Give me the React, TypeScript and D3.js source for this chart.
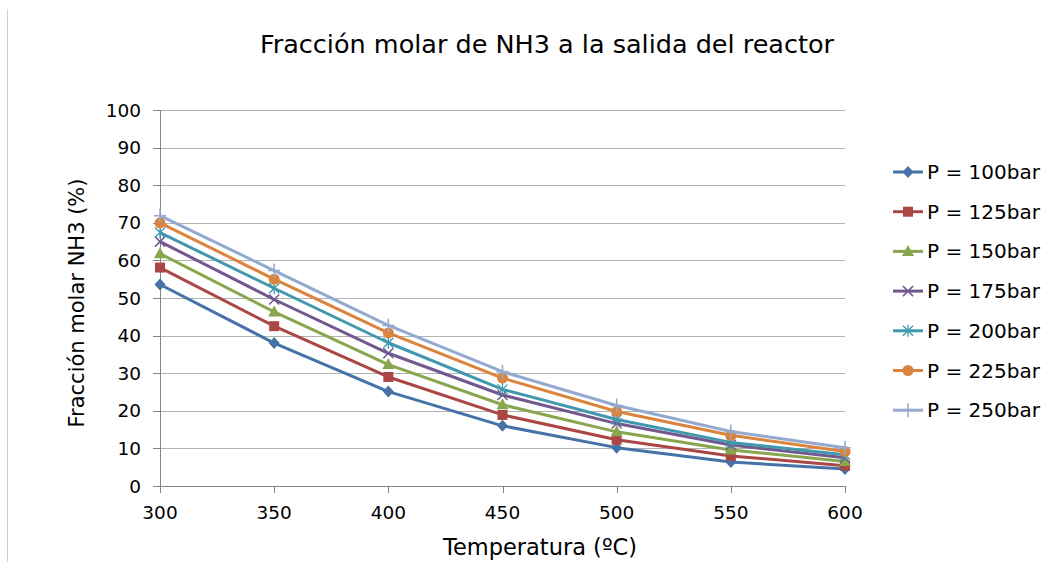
import React from "react";
import * as d3 from "d3";

const temperatures = [300, 350, 400, 450, 500, 550, 600];
const seriesNames = ["P = 100bar", "P = 125bar", "P = 150bar", "P = 175bar", "P = 200bar", "P = 225bar", "P = 250bar"];
const p100 = [53.6, 38.0, 25.1, 16.0, 10.2, 6.4, 4.5];
const p125 = [58.1, 42.5, 29.0, 18.9, 12.3, 8.0, 5.4];
const p150 = [61.8, 46.3, 32.3, 21.6, 14.4, 9.6, 6.5];
const p175 = [65.0, 49.6, 35.3, 24.2, 16.6, 10.9, 7.5];
const p200 = [67.4, 52.6, 38.1, 25.7, 17.7, 11.6, 8.3];
const p225 = [70.0, 55.0, 40.7, 28.7, 19.8, 13.5, 9.2];
const p250 = [71.9, 57.3, 42.7, 30.4, 21.4, 14.5, 10.2];
const yTicks = [0, 10, 20, 30, 40, 50, 60, 70, 80, 90, 100];
const colors = ["#4572A7", "#AA4643", "#89A54E", "#71588F", "#4198AF", "#DB843D", "#93A9CF"];
const markers = ["diamond", "square", "triangle", "x", "star", "circle", "plus"];

const allSeries = [p100, p125, p150, p175, p200, p225, p250];
const FONT = "'DejaVu Sans', sans-serif";

function Marker({ type, x, y, color }: { type: string; x: number; y: number; color: string }) {
  const s = 5.5;
  switch (type) {
    case "diamond":
      return <path d={`M${x},${y - s - 0.5}L${x + s},${y}L${x},${y + s + 0.5}L${x - s},${y}Z`} fill={color} />;
    case "square":
      return <rect x={x - 5} y={y - 5} width={10} height={10} fill={color} />;
    case "triangle":
      return <path d={`M${x},${y - 6.5}L${x + 6},${y + 4.5}L${x - 6},${y + 4.5}Z`} fill={color} />;
    case "x":
      return <path d={`M${x - 5},${y - 5}L${x + 5},${y + 5}M${x - 5},${y + 5}L${x + 5},${y - 5}`} stroke={color} strokeWidth={1.5} fill="none" />;
    case "star":
      return <path d={`M${x - 5},${y - 5}L${x + 5},${y + 5}M${x - 5},${y + 5}L${x + 5},${y - 5}M${x},${y - 6}L${x},${y + 6}`} stroke={color} strokeWidth={1.3} fill="none" />;
    case "circle":
      return <circle cx={x} cy={y} r={5.5} fill={color} />;
    case "plus":
      return <path d={`M${x - 6},${y}L${x + 6},${y}M${x},${y - 7}L${x},${y + 7}`} stroke={color} strokeWidth={1.5} fill="none" />;
  }
  return null;
}

export default function App() {
  const W = 1047, H = 562;
  const x = d3.scaleLinear().domain([300, 600]).range([160, 845]);
  const y = d3.scaleLinear().domain([0, 100]).range([486, 110]);
  const line = d3.line<number>().x((_, i) => x(temperatures[i])).y((d) => y(d));

  return (
    <svg width={W} height={H} style={{ position: "absolute", left: 0, top: 0 }}>
      <rect x={0} y={0} width={W} height={H} fill="#fff" />
      <line x1={7.5} y1={9} x2={7.5} y2={H} stroke="#d0d0d0" />
      <text x={547} y={53} textAnchor="middle" fontFamily={FONT} fontSize={25.5} fill="#000">
        Fracción molar de NH3 a la salida del reactor
      </text>
      {yTicks.map((t) => (
        <g key={t}>
          {t > 0 && <line x1={160} x2={845} y1={Math.round(y(t)) + 0.5} y2={Math.round(y(t)) + 0.5} stroke="#b3b3b3" strokeWidth={1} />}
          <line x1={153} x2={160} y1={Math.round(y(t)) + 0.5} y2={Math.round(y(t)) + 0.5} stroke="#868686" />
          <text x={141} y={y(t) + 6.5} textAnchor="end" fontFamily={FONT} fontSize={18.5} fill="#000">{t}</text>
        </g>
      ))}
      <line x1={160.5} x2={160.5} y1={110} y2={486} stroke="#868686" />
      <line x1={160} x2={845} y1={486.5} y2={486.5} stroke="#868686" />
      {temperatures.map((t) => (
        <g key={t}>
          <line x1={Math.round(x(t)) + 0.5} x2={Math.round(x(t)) + 0.5} y1={486} y2={493} stroke="#868686" />
          <text x={x(t)} y={519} textAnchor="middle" fontFamily={FONT} fontSize={18.5} fill="#000">{t}</text>
        </g>
      ))}
      <text x={540} y={555} textAnchor="middle" fontFamily={FONT} fontSize={22.5} fill="#000">Temperatura (ºC)</text>
      <text transform={`translate(84,303) rotate(-90)`} textAnchor="middle" fontFamily={FONT} fontSize={21} fill="#000">Fracción molar NH3 (%)</text>
      {allSeries.map((s, si) => (
        <g key={si}>
          <path d={line(s) || ""} fill="none" stroke={colors[si]} strokeWidth={3} strokeLinejoin="round" />
          {s.map((v, i) => (
            <Marker key={i} type={markers[si]} x={x(temperatures[i])} y={y(v)} color={colors[si]} />
          ))}
        </g>
      ))}
      {seriesNames.map((n, i) => {
        const ly = 172 + i * 39.7;
        return (
          <g key={n}>
            <line x1={893} x2={923} y1={ly} y2={ly} stroke={colors[i]} strokeWidth={3} />
            <Marker type={markers[i]} x={908} y={ly} color={colors[i]} />
            <text x={927} y={ly + 7} fontFamily={FONT} fontSize={20} fill="#000">{n}</text>
          </g>
        );
      })}
    </svg>
  );
}
